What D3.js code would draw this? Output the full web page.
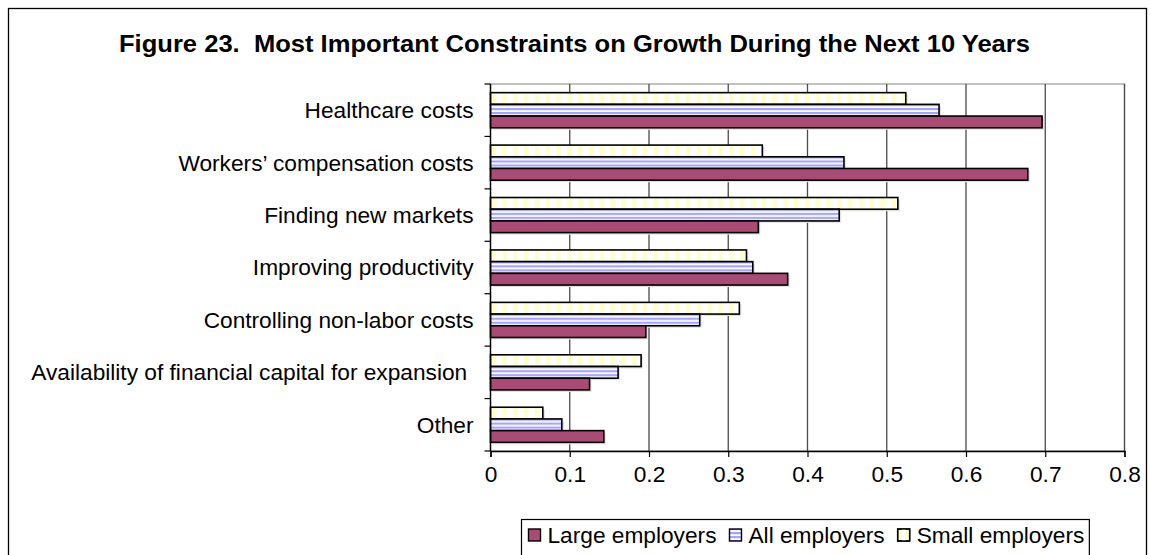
<!DOCTYPE html>
<html>
<head>
<meta charset="utf-8">
<script src="https://cdn.jsdelivr.net/npm/d3@7"></script>
<style>
  html, body { margin: 0; padding: 0; background: #fff; }
  svg { display: block; font-family: "Liberation Sans", Arial, sans-serif; }
</style>
</head>
<body>
<svg id="chart" width="1151" height="555"></svg>
<script>
// Survey responses: share of employers naming each constraint
const categories = [
  "Healthcare costs",
  "Workers\u2019 compensation costs",
  "Finding new markets",
  "Improving productivity",
  "Controlling non-labor costs",
  "Availability of financial capital for expansion ",
  "Other"
];
const seriesNames = ["Large employers", "All employers", "Small employers"];
const largeEmployers = [0.696, 0.678, 0.338, 0.375, 0.196, 0.125, 0.143];
const allEmployers   = [0.566, 0.446, 0.440, 0.331, 0.264, 0.161, 0.090];
const smallEmployers = [0.524, 0.343, 0.514, 0.323, 0.314, 0.190, 0.066];
const xTicks = [0, 0.1, 0.2, 0.3, 0.4, 0.5, 0.6, 0.7, 0.8];
const chartTitle = "Figure 23.  Most Important Constraints on Growth During the Next 10 Years";

const svg = d3.select("#chart");
const margin = { left: 490.5, right: 1124.5, top: 84, bottom: 451 };
const labelSize = 22.7;

// outer chart frame
svg.append("rect")
  .attr("x", 8.5).attr("y", 8.5)
  .attr("width", 1138).attr("height", 600)
  .attr("fill", "#fff").attr("stroke", "#000").attr("stroke-width", 1.3);

// fill patterns
const defs = svg.append("defs");
const pBlue = defs.append("pattern").attr("id", "hstripe")
  .attr("patternUnits", "userSpaceOnUse").attr("width", 8).attr("height", 4);
pBlue.append("rect").attr("width", 8).attr("height", 4).attr("fill", "#fff");
pBlue.append("rect").attr("y", 0).attr("width", 8).attr("height", 2.2).attr("fill", "#a6a6ff");

const pYellow = defs.append("pattern").attr("id", "vstripe")
  .attr("patternUnits", "userSpaceOnUse").attr("x", margin.left + 1).attr("width", 10.8).attr("height", 8);
pYellow.append("rect").attr("width", 10.8).attr("height", 8).attr("fill", "#fff");
pYellow.append("rect").attr("x", 0).attr("width", 4.4).attr("height", 8).attr("fill", "#ffffc8");

const fills = {
  "Large employers": "#aa4b76",
  "All employers": "url(#hstripe)",
  "Small employers": "url(#vstripe)"
};

// title
svg.append("text")
  .attr("x", 574.5).attr("y", 52)
  .attr("text-anchor", "middle")
  .attr("font-size", 24).attr("font-weight", "bold")
  .attr("textLength", 911).attr("lengthAdjust", "spacingAndGlyphs")
  .attr("xml:space", "preserve")
  .style("white-space", "pre")
  .text(chartTitle);

// scales
const x = d3.scaleLinear().domain([0, 0.8]).range([margin.left, margin.right]);
const y = d3.scaleBand().domain(categories).range([margin.top, margin.bottom]).padding(0);
// top-to-bottom order inside each group: small, all, large
const ySub = d3.scaleBand()
  .domain(["Small employers", "All employers", "Large employers"])
  .range([0, y.bandwidth()])
  .paddingInner(0).paddingOuter(0.74);

// plot area frame and gridlines
svg.append("rect")
  .attr("x", margin.left).attr("y", margin.top)
  .attr("width", margin.right - margin.left).attr("height", margin.bottom - margin.top)
  .attr("fill", "none").attr("stroke", "#a0a0a0").attr("stroke-width", 1.3);

svg.append("g").selectAll("line")
  .data(xTicks.slice(1))
  .join("line")
  .attr("x1", d => x(d)).attr("x2", d => x(d))
  .attr("y1", margin.top).attr("y2", margin.bottom)
  .attr("stroke", "#4a4a4a").attr("stroke-width", 1.3);

// bars
const rows = categories.map((c, i) => ({
  category: c,
  values: [
    { series: "Small employers", value: smallEmployers[i] },
    { series: "All employers", value: allEmployers[i] },
    { series: "Large employers", value: largeEmployers[i] }
  ]
}));

const groups = svg.append("g").selectAll("g")
  .data(rows)
  .join("g")
  .attr("transform", d => `translate(0,${y(d.category)})`);

// soft shadow behind each bar
groups.selectAll("rect.shadow")
  .data(d => d.values)
  .join("rect")
  .attr("class", "shadow")
  .attr("x", x(0) + 2)
  .attr("y", d => ySub(d.series) + 2)
  .attr("width", d => x(d.value) - x(0))
  .attr("height", ySub.bandwidth())
  .attr("fill", "#e2e2e2");

groups.selectAll("rect.bar")
  .data(d => d.values)
  .join("rect")
  .attr("class", "bar")
  .attr("x", x(0))
  .attr("y", d => ySub(d.series))
  .attr("width", d => x(d.value) - x(0))
  .attr("height", ySub.bandwidth())
  .attr("fill", d => fills[d.series])
  .attr("stroke", "#000").attr("stroke-width", 1.6);

// category axis
const yAxis = svg.append("g")
  .attr("transform", `translate(${margin.left},0)`);
yAxis.append("line")
  .attr("x1", 0).attr("x2", 0).attr("y1", margin.top).attr("y2", margin.bottom)
  .attr("stroke", "#000").attr("stroke-width", 1.4);
const boundaries = categories.map(c => y(c)).concat([margin.bottom]);
yAxis.selectAll("line.tick")
  .data(boundaries)
  .join("line")
  .attr("class", "tick")
  .attr("x1", -6).attr("x2", 0)
  .attr("y1", d => d).attr("y2", d => d)
  .attr("stroke", "#000").attr("stroke-width", 1.2);
yAxis.selectAll("text")
  .data(categories)
  .join("text")
  .attr("x", -17)
  .attr("y", d => y(d) + y.bandwidth() / 2)
  .attr("dy", "0.35em")
  .attr("text-anchor", "end")
  .attr("font-size", labelSize)
  .attr("xml:space", "preserve")
  .style("white-space", "pre")
  .text(d => d);

// value axis
const xAxis = d3.axisBottom(x)
  .tickValues(xTicks)
  .tickFormat(d => d === 0 ? "0" : d3.format(".1f")(d))
  .tickSize(6)
  .tickPadding(9);
const xg = svg.append("g")
  .attr("transform", `translate(0,${margin.bottom})`)
  .call(xAxis);
xg.select(".domain").attr("stroke", "#000").attr("stroke-width", 1.4);
xg.selectAll(".tick line").attr("stroke", "#000").attr("stroke-width", 1.2);
xg.selectAll(".tick text")
  .attr("font-size", labelSize)
  .attr("font-family", "'Liberation Sans', Arial, sans-serif")
  .attr("fill", "#000");

// legend
const legend = svg.append("g");
const legendLeft = 521.5, legendTop = 519.5;
const legendBox = legend.append("rect")
  .attr("x", legendLeft).attr("y", legendTop)
  .attr("height", 60)
  .attr("fill", "#fff").attr("stroke", "#000").attr("stroke-width", 1.2);
let cursor = legendLeft + 7;
seriesNames.forEach(name => {
  legend.append("rect")
    .attr("x", cursor).attr("y", 529)
    .attr("width", 12).attr("height", 12)
    .attr("fill", name === "Small employers" ? "#ffffc8" : fills[name])
    .attr("stroke", "#000").attr("stroke-width", 1.4);
  if (name === "Small employers") {
    // vertical stripes inside the swatch
    legend.append("rect")
      .attr("x", cursor + 4.5).attr("y", 529)
      .attr("width", 3.5).attr("height", 12)
      .attr("fill", "#fff");
    legend.append("rect")
      .attr("x", cursor).attr("y", 529)
      .attr("width", 12).attr("height", 12)
      .attr("fill", "none").attr("stroke", "#000").attr("stroke-width", 1.4);
  }
  const t = legend.append("text")
    .attr("x", cursor + 19).attr("y", 542.5)
    .attr("font-size", labelSize)
    .text(name);
  cursor += 19 + t.node().getComputedTextLength() + 13;
});
legendBox.attr("width", cursor - legendLeft - 8);
</script>
</body>
</html>
